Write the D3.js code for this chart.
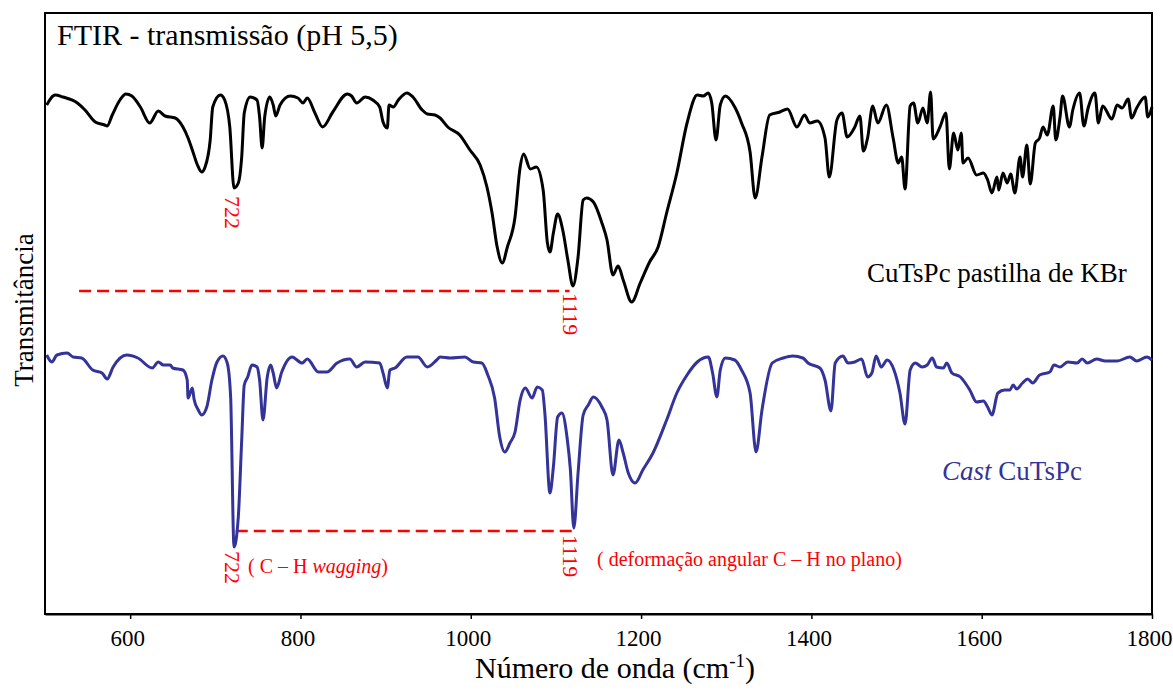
<!DOCTYPE html>
<html>
<head>
<meta charset="utf-8">
<script src="https://cdn.jsdelivr.net/npm/d3@7"></script>
<style>
  body { margin: 0; background: #fff; }
  svg text { font-family: "Liberation Serif", "Times New Roman", serif; }
</style>
</head>
<body>
<div id="ftir-wrapper"></div>
<script>
// x axis
const xDomain = [500, 1800];
const xTicks = [600, 800, 1000, 1200, 1400, 1600, 1800];

// CuTsPc pastilha de KBr: [número de onda, transmitância (u.a.)]
const kbrSpectrum = [
  [502,50.9],[512,51.9],[521,51.7],[538,51.1],[547,50.4],[559,49.2],[570,48.9],[573,48.8],[579,49.9],
  [588,51.4],[595,52.0],[602,51.8],[612,50.7],[623,49.1],[633,50.3],[641,49.8],[653,49.6],[662,48.7],
  [668,47.6],[673,46.4],[679,44.9],[684,44.2],[688,44.7],[694,47.4],[697,50.7],[706,51.9],[711,51.4],
  [717,48.7],[722,42.6],[727,43.1],[731,45.7],[734,50.1],[741,51.7],[749,51.4],[752,49.7],[755,46.6],
  [758,49.7],[764,51.7],[768,50.9],[771,49.8],[776,50.9],[788,51.8],[797,51.6],[803,51.1],[808,51.6],
  [817,50.1],[826,48.7],[838,50.2],[855,52.0],[860,51.8],[866,51.1],[876,51.7],[885,51.4],[893,50.7],
  [897,49.2],[902,48.6],[904,50.9],[909,50.7],[915,51.4],[925,52.1],[932,51.7],[943,50.4],[949,50.0],
  [958,49.9],[964,49.6],[973,48.7],[987,47.9],[999,46.4],[1011,44.9],[1019,42.7],[1025,40.1],[1031,36.7],
  [1037,35.1],[1043,36.7],[1052,39.7],[1058,44.7],[1062,46.0],[1070,44.5],[1077,44.7],[1085,42.4],
  [1090,37.1],[1093,36.2],[1097,38.1],[1102,40.0],[1108,38.4],[1114,35.4],[1120,32.8],[1126,35.7],
  [1132,41.4],[1136,41.6],[1144,41.2],[1154,39.1],[1160,37.4],[1167,33.9],[1173,34.8],[1179,33.4],
  [1189,31.2],[1199,33.1],[1210,35.2],[1220,36.7],[1230,40.1],[1242,44.1],[1254,49.1],[1266,51.9],
  [1273,51.8],[1279,52.1],[1283,51.1],[1288,47.4],[1293,50.9],[1299,51.8],[1310,50.7],[1318,49.1],
  [1328,46.2],[1334,41.6],[1342,45.7],[1351,49.9],[1363,50.2],[1372,50.5],[1383,48.7],[1392,49.9],
  [1398,49.1],[1407,49.3],[1416,47.6],[1421,43.7],[1430,49.4],[1436,50.1],[1442,47.7],[1451,48.7],
  [1457,49.8],[1461,46.3],[1466,47.6],[1472,50.8],[1478,49.1],[1488,50.9],[1496,47.6],[1502,45.1],
  [1506,45.7],[1510,42.5],[1516,50.8],[1520,51.1],[1525,49.1],[1531,50.6],[1536,49.1],[1540,52.2],
  [1543,47.5],[1551,48.7],[1558,50.1],[1562,44.5],[1567,48.1],[1572,46.4],[1576,48.1],[1578,45.1],
  [1584,45.6],[1594,43.9],[1602,44.1],[1607,43.4],[1612,42.1],[1618,43.7],[1620,42.4],[1625,44.1],
  [1630,43.1],[1634,44.0],[1639,42.1],[1645,45.7],[1648,43.7],[1653,46.9],[1657,43.0],[1663,47.1],
  [1668,47.6],[1672,48.7],[1677,47.9],[1684,50.8],[1687,47.4],[1692,49.7],[1695,51.8],[1703,48.7],
  [1707,50.4],[1715,52.1],[1720,48.8],[1725,50.6],[1733,52.1],[1737,49.1],[1742,50.8],[1753,49.5],
  [1759,50.9],[1765,50.6],[1772,51.5],[1776,49.6],[1782,50.6],[1792,51.7],[1795,49.7],[1800,50.7]
];

// Cast CuTsPc
const castSpectrum = [
  [502,25.9],[508,25.2],[514,25.9],[526,26.1],[533,25.7],[543,25.6],[556,24.4],[567,24.1],[573,23.5],
  [580,24.7],[596,25.9],[609,25.6],[626,24.6],[633,25.2],[639,24.9],[647,24.9],[650,24.6],[662,24.4],
  [667,23.4],[668,21.6],[673,22.6],[675,21.5],[680,20.4],[684,19.9],[690,20.7],[696,23.4],[702,25.2],
  [709,25.8],[714,25.1],[718,21.7],[722,6.7],[727,9.7],[731,17.4],[734,22.9],[738,23.7],[743,24.9],
  [749,24.7],[752,23.4],[756,19.4],[761,23.7],[765,24.9],[768,24.1],[772,22.6],[778,24.2],[790,25.7],
  [802,25.1],[808,25.5],[821,24.2],[831,24.2],[843,25.1],[858,25.5],[866,24.7],[876,25.2],[893,25.1],
  [897,24.1],[902,22.6],[905,24.4],[911,24.6],[925,25.7],[938,25.7],[949,24.7],[960,25.4],[964,25.7],
  [976,25.6],[993,25.7],[1003,25.2],[1013,25.1],[1020,23.9],[1028,21.6],[1034,17.7],[1040,16.2],
  [1046,17.1],[1052,18.2],[1058,21.4],[1064,22.6],[1072,21.6],[1078,22.7],[1084,22.4],[1087,20.1],
  [1093,12.1],[1097,14.7],[1102,19.7],[1107,20.1],[1113,17.7],[1117,14.4],[1121,8.6],[1126,14.1],
  [1132,19.9],[1138,20.9],[1144,21.7],[1154,20.7],[1160,19.4],[1167,13.9],[1174,17.4],[1179,16.1],
  [1185,14.1],[1193,13.1],[1202,14.4],[1214,16.1],[1230,19.4],[1242,22.1],[1254,23.9],[1266,25.2],
  [1279,25.7],[1284,24.1],[1289,21.7],[1293,24.4],[1299,25.6],[1310,25.4],[1318,24.4],[1328,22.1],
  [1335,16.2],[1342,20.4],[1354,25.1],[1367,25.6],[1378,25.8],[1390,25.6],[1396,25.1],[1410,24.6],
  [1416,23.4],[1423,20.3],[1428,25.1],[1437,25.8],[1443,25.1],[1451,25.2],[1459,25.5],[1466,23.7],
  [1471,24.1],[1476,25.8],[1482,24.7],[1489,25.4],[1497,24.4],[1504,22.1],[1510,19.0],[1516,24.4],
  [1522,25.1],[1530,24.7],[1536,24.9],[1542,25.6],[1547,24.7],[1555,24.6],[1559,25.1],[1565,24.1],
  [1575,23.7],[1586,22.4],[1594,21.2],[1602,21.3],[1607,20.7],[1612,19.9],[1619,22.1],[1627,22.4],
  [1633,22.4],[1637,22.9],[1641,22.5],[1648,23.1],[1654,23.5],[1660,23.1],[1668,23.9],[1680,24.2],
  [1685,24.9],[1692,24.7],[1701,25.2],[1712,25.1],[1718,25.5],[1724,25.1],[1735,25.5],[1745,25.3],
  [1759,25.3],[1774,25.7],[1782,25.3],[1794,25.7],[1800,25.4]
];

// red dashed guides: [from, to, level]
const guides = [
  [540, 1116, 32.3],
  [724, 1120, 8.3]
];
// peak labels: [text, wavenumber, level]
const peakLabels = [
  ["722", 722, 42.0],
  ["1119", 1119, 32.3],
  ["722", 722, 6.5],
  ["1119", 1119, 8.1]
];

const config = {
    width: 1173,
    height: 690,
    padding: {top: 13, right: 21, bottom: 76, left: 45},
    colors: {kbr: "#000000", cast: "#333399", mark: "#ff0000"}
};
config.innerWidth = config.width - config.padding.left - config.padding.right;
config.innerHeight = config.height - config.padding.top - config.padding.bottom;

const svg = d3.select("#ftir-wrapper").append("svg")
    .attr("width", config.width)
    .attr("height", config.height);

const scale = {
    x: d3.scaleLinear().domain(xDomain).range([config.padding.left, config.padding.left + config.innerWidth]),
    y: d3.scaleLinear().domain([0, 60]).range([config.padding.top + config.innerHeight, config.padding.top + 1])
};

const line = d3.line()
    .curve(d3.curveMonotoneX)
    .x(d => scale.x(d[0]))
    .y(d => scale.y(d[1]));

// frame
svg.append("rect")
    .attr("x", config.padding.left)
    .attr("y", config.padding.top)
    .attr("width", config.innerWidth)
    .attr("height", config.innerHeight)
    .attr("fill", "none")
    .attr("stroke", "#000")
    .attr("stroke-width", 2);

// x axis
const xAxis = svg.append("g")
    .attr("transform", `translate(0,${config.padding.top + config.innerHeight})`)
    .call(d3.axisBottom(scale.x)
        .tickValues(xTicks)
        .tickFormat(d3.format("d"))
        .tickSize(5).tickSizeOuter(0).tickPadding(11));
xAxis.select(".domain").attr("stroke-width", 2);
xAxis.selectAll(".tick line").attr("stroke-width", 1.5);
xAxis.selectAll("text")
    .attr("font-size", 23)
    .attr("dx", -3)
    .attr("font-family", "Liberation Serif, Times New Roman, serif")
    .attr("fill", "#000");

// guides
svg.selectAll(".guide").data(guides).enter()
    .append("line")
    .attr("class", "guide")
    .attr("x1", d => scale.x(d[0]))
    .attr("x2", d => scale.x(d[1]))
    .attr("y1", d => scale.y(d[2]))
    .attr("y2", d => scale.y(d[2]))
    .attr("stroke", config.colors.mark)
    .attr("stroke-width", 2.5)
    .attr("stroke-dasharray", "12,6");

// spectra
svg.append("path")
    .datum(kbrSpectrum)
    .attr("d", line)
    .attr("fill", "none")
    .attr("stroke", config.colors.kbr)
    .attr("stroke-width", 3)
    .attr("stroke-linejoin", "round");

svg.append("path")
    .datum(castSpectrum)
    .attr("d", line)
    .attr("fill", "none")
    .attr("stroke", config.colors.cast)
    .attr("stroke-width", 3)
    .attr("stroke-linejoin", "round");

// peak numbers, vertical
svg.selectAll(".peak").data(peakLabels).enter()
    .append("text")
    .attr("class", "peak")
    .attr("transform", d => `translate(${scale.x(d[1]) - 9},${scale.y(d[2]) + 2}) rotate(90)`)
    .attr("font-size", 22)
    .attr("fill", config.colors.mark)
    .text(d => d[0]);

// band assignments
svg.append("text")
    .attr("x", 248).attr("y", 573)
    .attr("font-size", 20)
    .attr("fill", config.colors.mark)
    .html("( C – H <tspan font-style='italic'>wagging</tspan>)");

svg.append("text")
    .attr("x", 597).attr("y", 566)
    .attr("font-size", 20)
    .attr("fill", config.colors.mark)
    .text("( deformação angular C – H no plano)");

// series names
svg.append("text")
    .attr("x", 867).attr("y", 282)
    .attr("font-size", 27)
    .attr("fill", config.colors.kbr)
    .text("CuTsPc pastilha de KBr");

svg.append("text")
    .attr("x", 942).attr("y", 480)
    .attr("font-size", 27)
    .attr("fill", config.colors.cast)
    .html("<tspan font-style='italic'>Cast</tspan> CuTsPc");

// title
svg.append("text")
    .attr("x", 57).attr("y", 45)
    .attr("font-size", 30)
    .attr("fill", "#000")
    .text("FTIR - transmissão (pH 5,5)");

// axis titles
svg.append("text")
    .attr("x", 615).attr("y", 678)
    .attr("text-anchor", "middle")
    .attr("font-size", 30)
    .attr("fill", "#000")
    .html("Número de onda (cm<tspan font-size='19' dy='-11'>-1</tspan><tspan dy='11'>)</tspan>");

svg.append("text")
    .attr("transform", "translate(33,310) rotate(-90)")
    .attr("text-anchor", "middle")
    .attr("font-size", 27)
    .attr("fill", "#000")
    .text("Transmitância");
</script>
</body>
</html>
